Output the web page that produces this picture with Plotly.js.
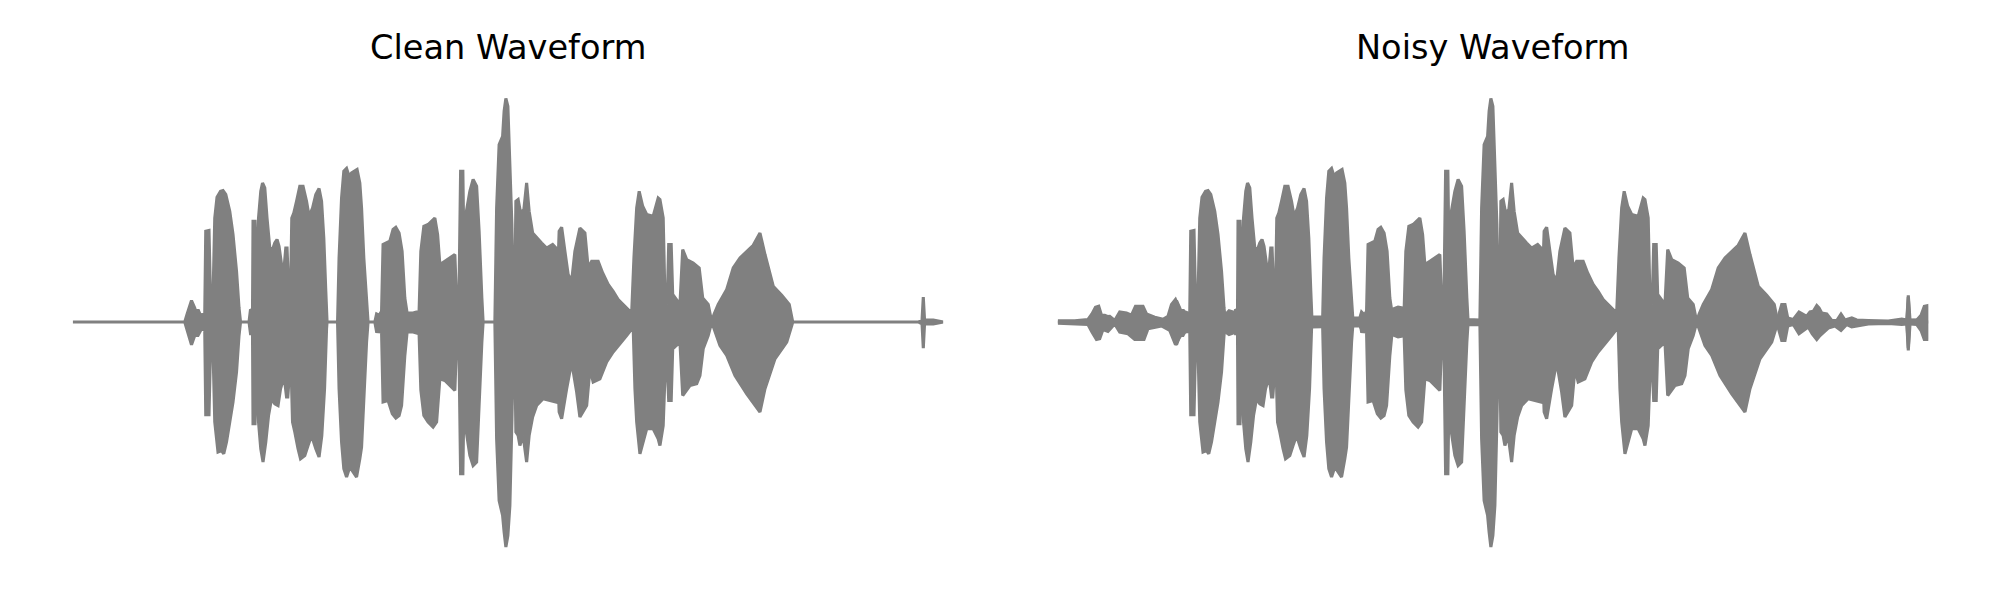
<!DOCTYPE html>
<html><head><meta charset="utf-8">
<script src="https://cdn.plot.ly/plotly-3.0.1.min.js"></script>
<style>html,body{margin:0;padding:0;background:#fff}</style>
</head><body>
<div id="chart" style="width:2000px;height:600px"></div>
<script>
const panelTitles = ["Clean Waveform", "Noisy Waveform"];

// Clean speech envelope: time (s) and amplitude of upper and lower edges
const cleanUpT = [0.000,0.448,0.457,0.475,0.488,0.495,0.501,0.511,0.521,0.528,
0.532,0.545,0.551,0.561,0.568,0.577,0.591,0.601,0.612,0.628,
0.641,0.655,0.665,0.671,0.705,0.711,0.719,0.721,0.729,0.735,
0.743,0.752,0.759,0.768,0.777,0.788,0.799,0.808,0.817,0.825,
0.835,0.844,0.852,0.857,0.863,0.871,0.876,0.884,0.895,0.908,
0.921,0.935,0.945,0.959,0.972,0.985,0.995,1.004,1.012,1.017,
1.059,1.065,1.075,1.084,1.095,1.105,1.115,1.128,1.137,1.148,
1.155,1.164,1.175,1.181,1.208,1.215,1.225,1.235,1.241,1.252,
1.268,1.281,1.292,1.305,1.317,1.328,1.337,1.361,1.385,1.392,
1.404,1.421,1.435,1.448,1.459,1.468,1.488,1.508,1.528,1.535,
1.544,1.551,1.560,1.565,1.572,1.588,1.601,1.615,1.625,1.636,
1.641,1.688,1.695,1.705,1.719,1.725,1.732,1.740,1.748,1.756,
1.761,1.768,1.772,1.781,1.791,1.804,1.815,1.825,1.839,1.855,
1.875,1.895,1.919,1.932,1.937,1.945,1.955,1.968,1.981,1.995,
2.008,2.028,2.048,2.061,2.075,2.101,2.119,2.141,2.161,2.181,
2.208,2.235,2.244,2.255,2.265,2.279,2.295,2.321,2.341,2.348,
2.361,2.368,2.377,2.383,2.393,2.399,2.428,2.439,2.455,2.481,
2.505,2.519,2.541,2.555,2.564,2.581,2.615,2.641,2.668,2.695,
2.721,2.748,2.768,2.801,2.835,2.865,2.879,3.381,3.396,3.401,
3.406,3.441,3.481];
const cleanUpA = [0,0,0.030,0.086,0.056,0.030,0.050,0.027,0.030,0.032,
0.363,0.366,0.096,0.096,0.416,0.499,0.523,0.526,0.510,0.443,
0.350,0.203,0.056,0,0,0.050,0.043,0.403,0.403,0.123,
0.416,0.523,0.556,0.536,0.416,0.296,0.290,0.316,0.330,0.303,
0.230,0.203,0.296,0.296,0.136,0.123,0.416,0.436,0.483,0.543,
0.543,0.483,0.423,0.456,0.510,0.534,0.483,0.336,0.123,0,
0,0.256,0.496,0.603,0.614,0.583,0.596,0.606,0.610,0.556,
0.456,0.256,0.070,0,0,0.032,0.027,0.043,0.310,0.316,
0.323,0.370,0.379,0.356,0.283,0.096,0.036,0.036,0.043,0.283,
0.383,0.390,0.403,0.416,0.350,0.230,0.243,0.256,0.270,0.083,
0.070,0.603,0.603,0.230,0.430,0.523,0.570,0.543,0.363,0.096,
0,0,0.456,0.710,0.743,0.843,0.894,0.863,0.656,0.390,
0.123,0.123,0.483,0.490,0.436,0.450,0.556,0.443,0.356,0.336,
0.316,0.296,0.310,0.296,0.123,0.363,0.379,0.283,0.190,0.163,
0.283,0.376,0.356,0.216,0.243,0.243,0.196,0.150,0.123,0.090,
0.063,0.036,0.256,0.456,0.523,0.463,0.430,0.423,0.496,0.490,
0.416,0.096,0.070,0.310,0.310,0.110,0.070,0.290,0.250,0.236,
0.216,0.096,0.070,0,0.030,0.070,0.130,0.216,0.256,0.283,
0.307,0.356,0.270,0.143,0.107,0.070,0,0,0.008,0.100,
0.008,0.008,0];
const cleanLoT = [0.000,0.448,0.457,0.475,0.488,0.501,0.515,0.528,0.532,0.545,
0.551,0.561,0.568,0.581,0.595,0.604,0.615,0.628,0.641,0.655,
0.665,0.671,0.705,0.711,0.719,0.721,0.729,0.735,0.743,0.752,
0.761,0.772,0.783,0.795,0.808,0.821,0.831,0.839,0.848,0.855,
0.860,0.865,0.872,0.879,0.888,0.901,0.911,0.928,0.941,0.955,
0.972,0.985,0.996,1.007,1.015,1.017,1.059,1.065,1.075,1.084,
1.095,1.108,1.121,1.135,1.148,1.155,1.164,1.175,1.181,1.208,
1.215,1.235,1.241,1.261,1.278,1.292,1.305,1.315,1.328,1.337,
1.361,1.385,1.392,1.404,1.421,1.441,1.455,1.468,1.488,1.508,
1.528,1.535,1.544,1.551,1.560,1.565,1.572,1.588,1.601,1.615,
1.625,1.636,1.641,1.688,1.695,1.705,1.719,1.725,1.732,1.740,
1.748,1.756,1.761,1.768,1.772,1.781,1.788,1.801,1.815,1.825,
1.839,1.855,1.881,1.908,1.932,1.937,1.945,1.955,1.975,1.995,
2.015,2.028,2.055,2.068,2.081,2.108,2.135,2.161,2.181,2.215,
2.241,2.248,2.255,2.268,2.295,2.321,2.341,2.348,2.361,2.368,
2.373,2.383,2.393,2.399,2.428,2.439,2.468,2.495,2.508,2.521,
2.541,2.555,2.568,2.588,2.615,2.648,2.695,2.748,2.768,2.808,
2.855,2.875,2.879,3.381,3.396,3.401,3.406,3.441,3.481];
const cleanLoA = [0,0,-0.027,-0.091,-0.054,-0.054,-0.027,-0.034,-0.371,-0.371,
-0.107,-0.107,-0.400,-0.520,-0.514,-0.527,-0.480,-0.400,-0.320,-0.200,
-0.054,0,0,-0.047,-0.047,-0.407,-0.407,-0.134,-0.400,-0.507,
-0.560,-0.480,-0.374,-0.307,-0.327,-0.334,-0.267,-0.240,-0.240,-0.300,
-0.300,-0.214,-0.134,-0.400,-0.440,-0.507,-0.547,-0.534,-0.494,-0.454,
-0.507,-0.540,-0.454,-0.267,-0.027,0,0,-0.267,-0.480,-0.587,
-0.620,-0.580,-0.600,-0.620,-0.547,-0.500,-0.300,-0.080,0,0,
-0.038,-0.040,-0.320,-0.314,-0.367,-0.384,-0.374,-0.334,-0.134,-0.040,
-0.040,-0.047,-0.272,-0.374,-0.400,-0.420,-0.400,-0.227,-0.234,-0.254,
-0.274,-0.080,-0.080,-0.607,-0.607,-0.267,-0.427,-0.534,-0.574,-0.560,
-0.347,-0.080,0,0,-0.467,-0.714,-0.774,-0.840,-0.900,-0.854,
-0.734,-0.400,-0.134,-0.134,-0.440,-0.454,-0.494,-0.454,-0.560,-0.454,
-0.380,-0.334,-0.307,-0.314,-0.320,-0.134,-0.360,-0.387,-0.267,-0.160,
-0.280,-0.380,-0.334,-0.187,-0.240,-0.227,-0.160,-0.120,-0.094,-0.054,
-0.020,-0.267,-0.400,-0.527,-0.427,-0.427,-0.467,-0.494,-0.414,-0.267,
-0.080,-0.314,-0.314,-0.107,-0.080,-0.294,-0.254,-0.247,-0.214,-0.107,
-0.054,0,-0.040,-0.094,-0.134,-0.214,-0.287,-0.360,-0.267,-0.147,
-0.080,-0.014,0,0,-0.008,-0.105,-0.008,-0.008,0];

// Background noise envelope added in the noisy recording
const noiseUpT = [0.000,0.068,0.121,0.137,0.151,0.164,0.175,0.188,0.199,0.208,
0.228,0.248,0.275,0.295,0.311,0.341,0.355,0.388,0.421,0.441,
0.455,0.471,0.488,0.501,0.521,0.600,0.671,0.685,0.700,0.715,
0.900,1.017,1.040,1.059,1.181,1.208,1.215,1.225,1.337,1.361,
1.385,1.641,1.688,2.879,2.895,2.908,2.919,2.941,2.964,2.981,
2.995,3.008,3.021,3.035,3.044,3.055,3.075,3.095,3.115,3.132,
3.148,3.175,3.195,3.241,3.321,3.375,3.395,3.401,3.408,3.435,
3.452,3.465,3.481];
const noiseUpA = [0.005,0.005,0.010,0.032,0.059,0.063,0.027,0.027,0.022,0.023,
0.006,0.040,0.036,0.027,0.063,0.063,0.032,0.019,0.011,0.023,
0.070,0.090,0.050,0.043,0.036,0.020,0.030,0.045,0.040,0.030,
0.020,0.020,0.023,0.020,0.016,0.016,0.040,0.030,0.050,0.060,
0.055,0.010,0.008,0.015,0.070,0.070,0.016,0.010,0.040,0.032,
0.023,0.040,0.043,0.066,0.056,0.036,0.032,0.006,0.006,0.032,
0.008,0.016,0.008,0.006,0.004,0.012,0.008,0.107,0.006,0.008,
0.027,0.063,0.066];
const noiseLoT = [0.000,0.121,0.137,0.155,0.168,0.181,0.201,0.228,0.248,0.281,
0.308,0.345,0.361,0.415,0.448,0.471,0.488,0.508,0.528,0.600,
0.671,0.685,0.700,0.715,0.900,1.017,1.040,1.059,1.181,1.208,
1.220,1.235,1.337,1.361,1.385,1.641,1.688,2.879,2.895,2.908,
2.919,2.941,2.964,2.981,3.001,3.017,3.035,3.048,3.061,3.081,
3.108,3.132,3.155,3.175,3.241,3.321,3.375,3.395,3.401,3.408,
3.435,3.452,3.465,3.481];
const noiseLoA = [-0.005,-0.010,-0.040,-0.070,-0.067,-0.030,-0.038,-0.008,-0.040,-0.047,
-0.070,-0.070,-0.027,-0.016,-0.034,-0.091,-0.060,-0.040,-0.038,-0.020,
-0.040,-0.050,-0.045,-0.030,-0.020,-0.020,-0.020,-0.020,-0.016,-0.016,
-0.035,-0.030,-0.050,-0.060,-0.055,-0.010,-0.008,-0.016,-0.074,-0.074,
-0.016,-0.010,-0.047,-0.034,-0.020,-0.047,-0.070,-0.054,-0.040,-0.024,
-0.016,-0.034,-0.010,-0.020,-0.008,-0.006,-0.010,-0.008,-0.114,-0.006,
-0.010,-0.034,-0.070,-0.070];

const GREY = '#808080';
function envTrace(upT, upA, loT, loA, xa, ya) {
  return {
    x: upT.concat(loT.slice().reverse()),
    y: upA.concat(loA.slice().reverse()),
    xaxis: xa, yaxis: ya,
    type: 'scatter', mode: 'lines', fill: 'toself',
    fillcolor: GREY, line: {color: GREY, width: 3.1},
    hoverinfo: 'skip', showlegend: false
  };
}

const traces = [
  envTrace(cleanUpT, cleanUpA, cleanLoT, cleanLoA, 'x', 'y'),
  envTrace(noiseUpT, noiseUpA, noiseLoT, noiseLoA, 'x2', 'y2'),
  envTrace(cleanUpT, cleanUpA, cleanLoT, cleanLoA, 'x2', 'y2')
];

const tEnd = cleanUpT[cleanUpT.length - 1];
const d1 = [0.03635, 0.47165], d2 = [0.52885, 0.96415];
const yr = [-1.112, 1.288];
const titleFont = {family: 'DejaVu Sans', size: 33.6, color: '#000000'};
const layout = {
  width: 2000, height: 600,
  margin: {l: 0, r: 0, t: 0, b: 0},
  paper_bgcolor: '#ffffff', plot_bgcolor: '#ffffff',
  showlegend: false,
  xaxis: {domain: d1, range: [0, tEnd], visible: false, anchor: 'y'},
  yaxis: {domain: [0, 1], range: yr, visible: false, anchor: 'x'},
  xaxis2: {domain: d2, range: [0, tEnd], visible: false, anchor: 'y2'},
  yaxis2: {domain: [0, 1], range: yr, visible: false, anchor: 'x2'},
  annotations: [
    {text: panelTitles[0], xref: 'paper', yref: 'paper', x: (d1[0]+d1[1])/2, y: 1 - 47/600,
     xanchor: 'center', yanchor: 'middle', showarrow: false, font: titleFont},
    {text: panelTitles[1], xref: 'paper', yref: 'paper', x: (d2[0]+d2[1])/2, y: 1 - 47/600,
     xanchor: 'center', yanchor: 'middle', showarrow: false, font: titleFont}
  ]
};
Plotly.newPlot('chart', traces, layout, {staticPlot: true, displayModeBar: false});
</script>
</body></html>
